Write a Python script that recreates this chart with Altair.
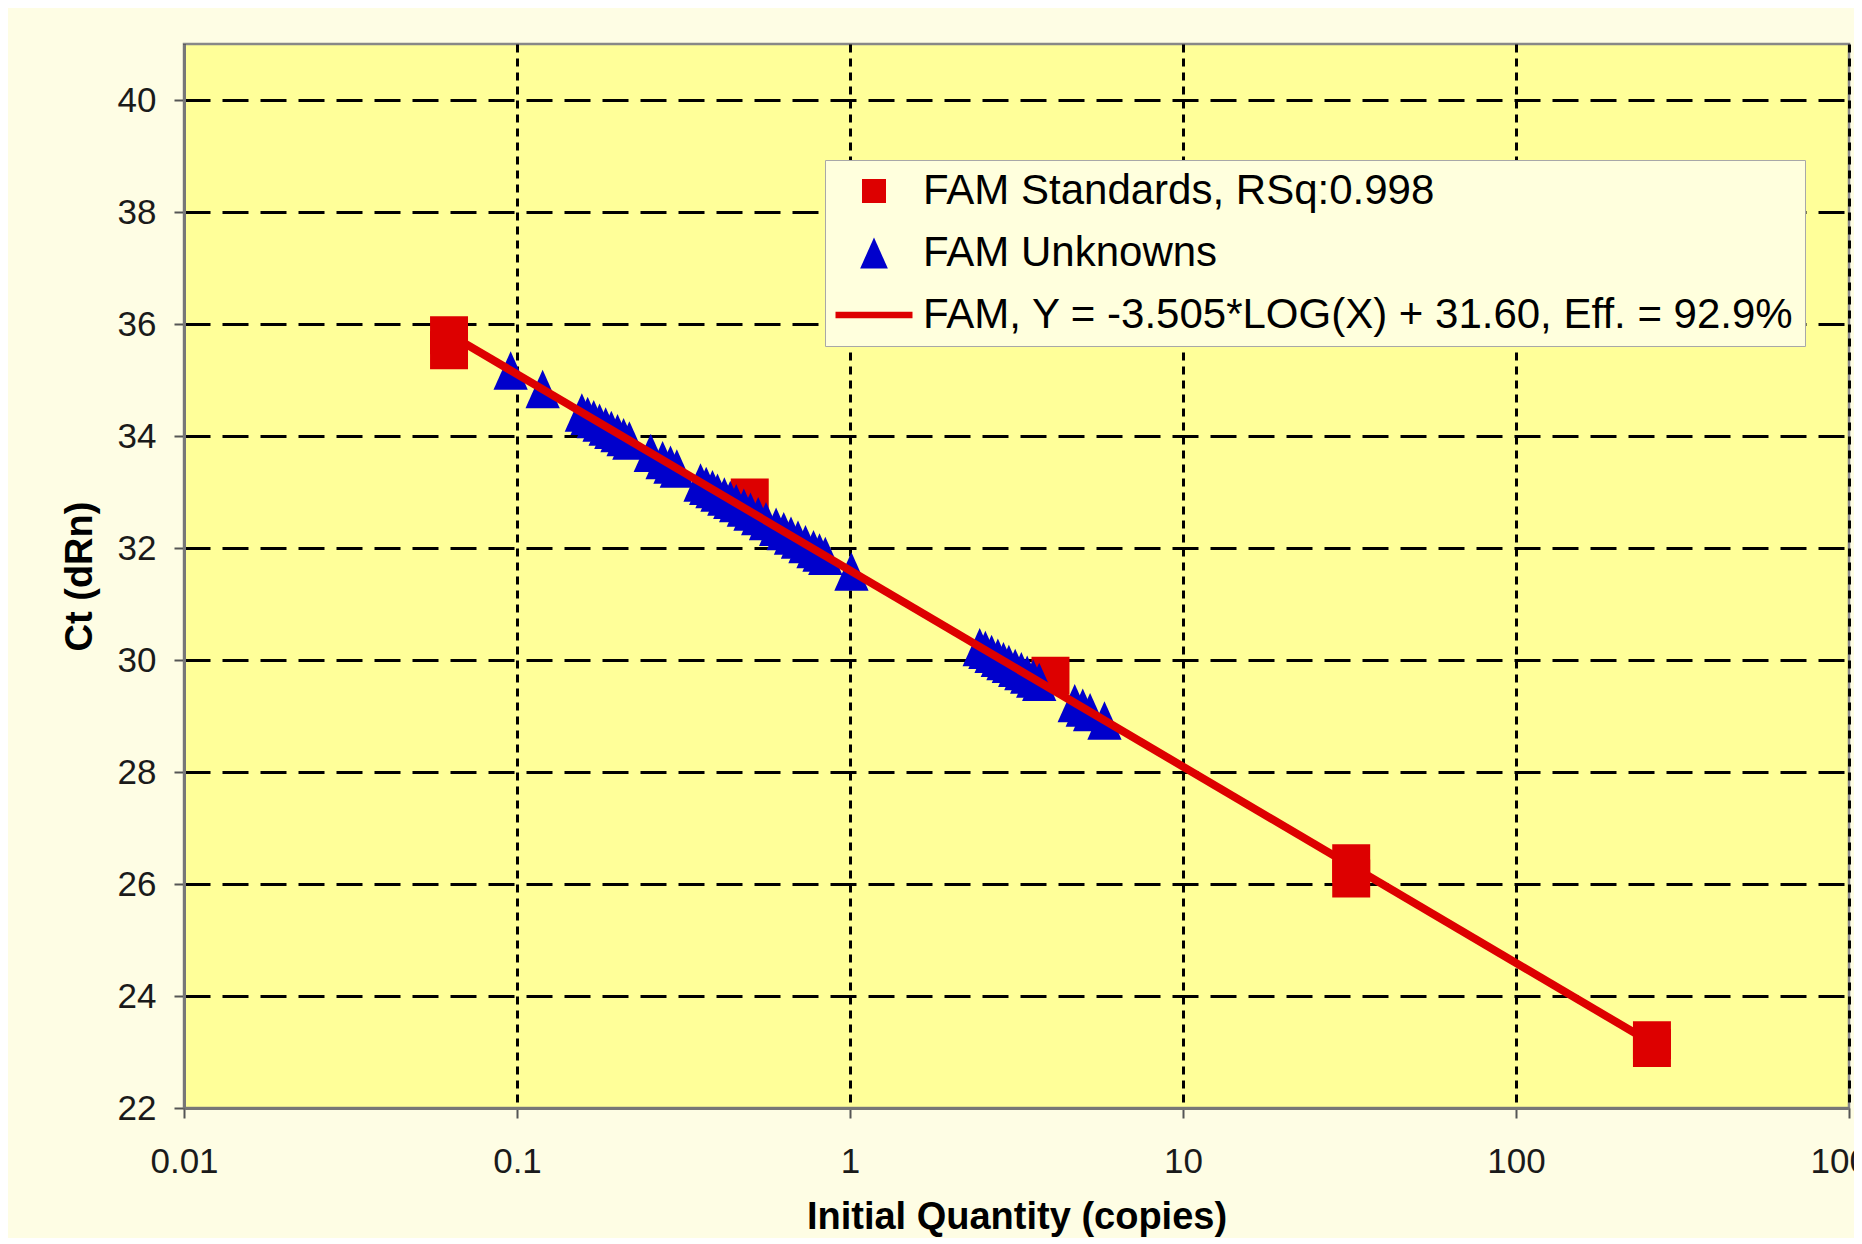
import altair as alt
import pandas as pd

S_STD = "FAM Standards, RSq:0.998"
S_UNK = "FAM Unknowns"
S_FIT = "FAM, Y = -3.505*LOG(X) + 31.60, Eff. = 92.9%"

# Standards (red squares)
std_x = [0.0625, 0.0625, 0.5, 4, 32, 32, 256, 256]
std_y = [35.80, 35.53, 32.90, 29.72, 26.37, 26.10, 23.21, 23.07]

# Unknowns (blue triangles)
unk_x = [0.0957, 0.1194, 0.1566, 0.163, 0.170, 0.177, 0.1846, 0.192, 0.2004, 0.209,
         0.2175, 0.2522, 0.2737, 0.289, 0.302, 0.3558, 0.37, 0.3864, 0.40, 0.4194,
         0.437, 0.4552, 0.48, 0.5025, 0.53, 0.5595, 0.60, 0.6325, 0.665, 0.698,
         0.735, 0.777, 0.81, 0.843, 1.01,
         2.452, 2.55, 2.662, 2.78, 2.89, 3.0, 3.134, 3.27, 3.405, 3.55, 3.70,
         4.73, 5.0, 5.26, 5.81]
unk_y = [35.17, 34.84, 34.42, 34.36, 34.30, 34.24, 34.17, 34.11, 34.05, 33.98,
         33.92, 33.70, 33.57, 33.49, 33.42, 33.17, 33.11, 33.05, 32.99, 32.92,
         32.86, 32.80, 32.72, 32.65, 32.57, 32.48, 32.38, 32.30, 32.22, 32.15,
         32.07, 31.98, 31.92, 31.86, 31.58,
         30.23, 30.18, 30.11, 30.04, 29.98, 29.93, 29.86, 29.80, 29.74, 29.67, 29.61,
         29.23, 29.15, 29.07, 28.92]

# Standard curve end points
fit_x = [0.0625, 256]
fit_y = [35.82, 23.16]

x_ticks = [0.01, 0.1, 1, 10, 100, 1000]
y_ticks = [22, 24, 26, 28, 30, 32, 34, 36, 38, 40]

df = pd.concat([
    pd.DataFrame({"x": std_x, "y": std_y, "series": S_STD}),
    pd.DataFrame({"x": unk_x, "y": unk_y, "series": S_UNK}),
    pd.DataFrame({"x": fit_x, "y": fit_y, "series": S_FIT}),
], ignore_index=True)

domain = [S_STD, S_UNK, S_FIT]
color_scale = alt.Scale(domain=domain, range=["#DD0000", "#0000CC", "#DD0000"])
shape_scale = alt.Scale(domain=domain, range=[
    "M-0.571,-0.571L0.571,-0.571L0.571,0.571L-0.571,0.571Z",
    "M0,-0.738L0.66,0.738L-0.66,0.738Z",
    "M-1.833,-0.15L1.833,-0.15L1.833,0.15L-1.833,0.15Z",
])

legend = alt.Legend(
    title=None, orient="none", legendX=641, legendY=116,
    labelFont="Liberation Sans", labelFontSize=42, labelColor="black", labelLimit=2000,
    symbolSize=1764, symbolStrokeWidth=0, symbolOffset=18, labelOffset=28,
    rowPadding=20, padding=10, fillColor="#FFFFDD", strokeColor="#A8A8A8",
    symbolOpacity=1,
)

x_enc = alt.X("x:Q", scale=alt.Scale(type="log", domain=[0.01, 1000], nice=False),
              axis=alt.Axis(values=x_ticks, format="~g", title="Initial Quantity (copies)",
                            gridDash=[8, 6], labelPadding=26, titlePadding=19,
                            labelFlush=False, labelOverlap=False))
y_enc = alt.Y("y:Q", scale=alt.Scale(domain=[22, 41], nice=False, zero=False),
              axis=alt.Axis(values=y_ticks, title="Ct (dRn)", gridDash=[26, 12],
                            labelPadding=18, titlePadding=18))

base = alt.Chart(df)

sq = base.transform_filter(alt.datum.series == S_STD).mark_point(
    filled=True, size=4422, opacity=1).encode(
    x=x_enc, y=y_enc,
    color=alt.Color("series:N", scale=color_scale, legend=legend),
    shape=alt.Shape("series:N", scale=shape_scale, legend=legend),
)
tri = base.transform_filter(alt.datum.series == S_UNK).mark_point(
    filled=True, size=2700, opacity=1).encode(
    x=x_enc, y=y_enc,
    color=alt.Color("series:N", scale=color_scale, legend=legend),
    shape=alt.Shape("series:N", scale=shape_scale, legend=legend),
)
line = base.transform_filter(alt.datum.series == S_FIT).mark_line(strokeWidth=8).encode(
    x=x_enc, y=y_enc,
    color=alt.Color("series:N", scale=color_scale, legend=legend),
)

chart = alt.layer(sq, tri, line).properties(
    width=1665, height=1064,
    background="#FEFDE4",
    padding={"left": 176, "top": 36, "right": 5, "bottom": 130},
    autosize=alt.AutoSizeParams(type="none"),
).configure_view(
    fill="#FFFF99", stroke="#888888", strokeWidth=2.5
).configure_axis(
    labelFont="Liberation Sans", labelFontSize=35, labelColor="#1a1a1a",
    titleFont="Liberation Sans", titleFontSize=38, titleFontWeight="bold", titleColor="black",
    domainColor="#777777", domainWidth=3, tickColor="#555555", tickWidth=2, tickSize=10,
    gridColor="black", gridWidth=3, gridOpacity=1,
)

chart.save("out.html", embed_options={"renderer": "svg", "actions": False})
